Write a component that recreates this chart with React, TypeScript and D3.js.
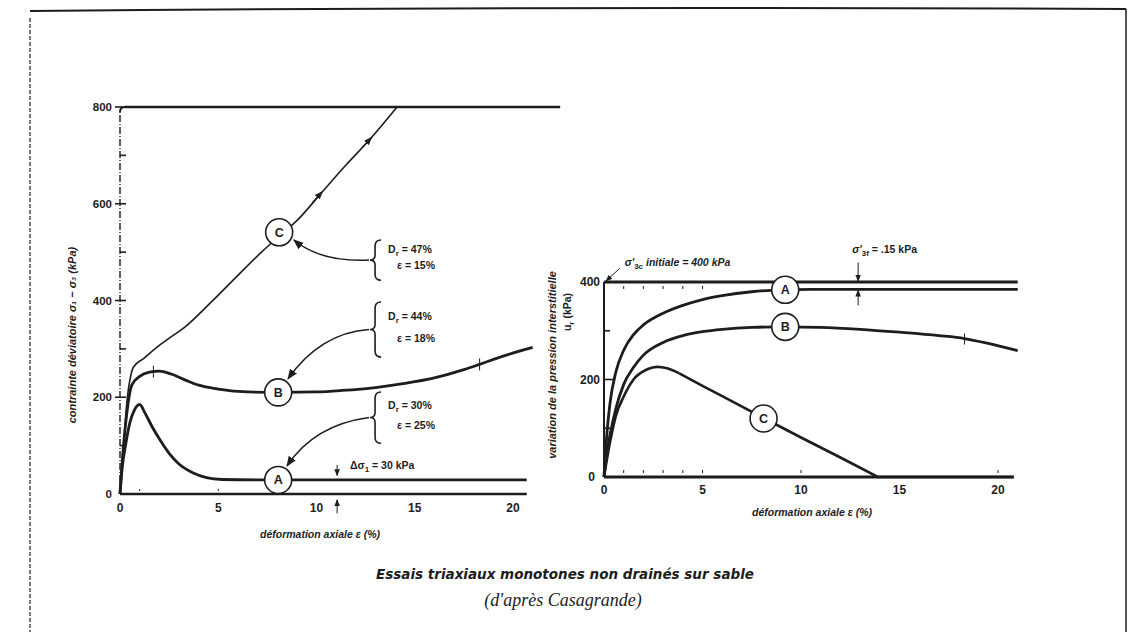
import React, { useEffect, useRef } from "react";
import * as d3 from "d3";

type Pt = [number, number];

// axis ticks
const strainTicks = [0, 5, 10, 15, 20];
const deviatorTicks = [0, 200, 400, 600, 800];
const deviatorMinorTicks = [100, 300, 500, 700];
const poreTicks = [0, 200, 400];
const poreMinorTicks = [100, 300];
const leftBaseDots = [1, 5];
const rightBaseDots = [1, 2, 3, 4, 5, 10, 20];
const rightTopDots = [1, 2, 3, 4, 5];

// left chart: deviator stress (kPa) vs axial strain (%)
const deviatorA: Pt[] = [
  [0, 0], [0.1, 50], [0.3, 105], [0.5, 147], [0.75, 175], [1.0, 185], [1.3, 165],
  [1.65, 138], [2.0, 114], [2.5, 84], [3.0, 62], [3.7, 44], [4.4, 34], [5.2, 30],
  [7, 29], [10, 29], [15, 29], [20.7, 29],
];
const deviatorB: Pt[] = [
  [0, 0], [0.1, 60], [0.3, 150], [0.6, 225], [1.0, 243], [1.5, 252], [2.0, 254],
  [2.6, 248], [3.3, 236], [4, 225], [5, 217], [6.5, 211], [8.2, 210], [10, 211],
  [11.3, 214], [13, 220], [14.4, 228], [16, 240], [17.5, 257], [18.3, 268],
  [19.5, 285], [21, 303],
];
const deviatorC: Pt[] = [
  [0, 0], [0.15, 80], [0.35, 190], [0.55, 245], [0.68, 262], [1.2, 280], [2, 307],
  [2.6, 325], [3.3, 345], [4.6, 395], [6, 452], [7.2, 500], [8.3, 540], [9, 565],
  [10.3, 625], [11.5, 680], [12.8, 737], [14.1, 800],
];
const deviatorLimit: Pt[] = [[0.25, 800], [22.4, 800]];

// right chart: pore pressure variation (kPa) vs axial strain (%)
const poreInitial: Pt[] = [[0, 400], [21, 400]];
const poreA: Pt[] = [
  [0, 0], [0.15, 90], [0.3, 150], [0.6, 215], [1, 260], [1.5, 292], [2, 312],
  [3, 336], [4, 352], [5, 364], [6, 372], [7.5, 380], [9, 384], [10.5, 385], [21, 385],
];
const poreB: Pt[] = [
  [0, 0], [0.15, 50], [0.3, 85], [0.6, 140], [1, 190], [1.5, 225], [2, 250],
  [3, 276], [4, 290], [5, 298], [6, 303], [7.5, 307], [9, 308], [11, 307],
  [13, 303], [15, 297], [17, 290], [18.3, 284], [19.5, 274], [21, 259],
];
const poreC: Pt[] = [
  [0, 0], [0.3, 70], [0.6, 125], [1, 165], [1.5, 200], [2.2, 221], [2.7, 226],
  [3.2, 223], [3.8, 213], [5, 187], [6, 166], [8.2, 119], [10, 81], [12, 40],
  [13.9, 0], [20.8, 0],
];
const poreCBreak = 3.8; // smooth rise before, straight decline after

// circled test labels
const deviatorLabels = [
  { id: "C", e: 8.1, v: 541 },
  { id: "B", e: 8.05, v: 210 },
  { id: "A", e: 8.05, v: 29 },
];
const poreLabels = [
  { id: "A", e: 9.2, v: 384 },
  { id: "B", e: 9.2, v: 308 },
  { id: "C", e: 8.1, v: 120 },
];

// density notes next to braces (stress at brace top/bottom, arrow target and bend)
const braceNotes = [
  { dr: "47%", eps: "15%", top: 525, bottom: 442, target: [8.85, 525], ctrl: [10.2, 479] },
  { dr: "44%", eps: "18%", top: 397, bottom: 283, target: [8.55, 238], ctrl: [10.2, 333] },
  { dr: "30%", eps: "25%", top: 211, bottom: 105, target: [8.5, 58], ctrl: [9.9, 143] },
];

const W = 1131;
const H = 632;
const ink = "#1d1d1d";
const sans = "'Liberation Sans', Arial, sans-serif";

const App: React.FC = () => {
  const ref = useRef<SVGSVGElement | null>(null);

  useEffect(() => {
    const svg = d3.select(ref.current);
    svg.selectAll("*").remove();

    const defs = svg.append("defs");
    defs
      .append("marker")
      .attr("id", "arrow")
      .attr("viewBox", "0 0 10 10")
      .attr("refX", 9)
      .attr("refY", 5)
      .attr("markerWidth", 7)
      .attr("markerHeight", 7)
      .attr("orient", "auto")
      .append("path")
      .attr("d", "M0,1 L10,5 L0,9 Z")
      .attr("fill", ink);

    svg.append("rect").attr("width", W).attr("height", H).attr("fill", "#fff");

    // page frame
    svg.append("path").attr("d", "M30,11 Q560,6 1126,9").attr("fill", "none").attr("stroke", ink).attr("stroke-width", 2);
    svg.append("line").attr("x1", 1126).attr("y1", 9).attr("x2", 1126).attr("y2", H)
      .attr("stroke", ink).attr("stroke-width", 1.5);
    svg.append("line").attr("x1", 30).attr("y1", 18).attr("x2", 30).attr("y2", H)
      .attr("stroke", ink).attr("stroke-width", 1.2).attr("stroke-dasharray", "4,2");

    // ---------- left chart ----------
    const xL = d3.scaleLinear().domain([0, 20]).range([120, 513]);
    const yL = d3.scaleLinear().domain([0, 800]).range([494, 107]);
    const left = svg.append("g");

    left.append("line")
      .attr("x1", xL(0)).attr("x2", xL(0))
      .attr("y1", yL(0)).attr("y2", yL(800) + 5)
      .attr("stroke", ink).attr("stroke-width", 1.4)
      .attr("stroke-dasharray", "7,2,1,2");
    left.append("path")
      .attr("d", `M${xL(0)},${yL(800) + 5} Q${xL(0)},${yL(800)} ${xL(0) + 5},${yL(800)}`)
      .attr("fill", "none").attr("stroke", ink).attr("stroke-width", 2);

    const lineL = d3.line<Pt>().x((d) => xL(d[0])).y((d) => yL(d[1])).curve(d3.curveMonotoneX);

    left.append("path").datum(deviatorLimit)
      .attr("d", d3.line<Pt>().x((d) => xL(d[0])).y((d) => yL(d[1])))
      .attr("fill", "none").attr("stroke", ink).attr("stroke-width", 2.6);

    deviatorTicks.filter((v) => v > 0).forEach((v) => {
      left.append("line").attr("x1", xL(0) - 5).attr("x2", xL(0) + 6)
        .attr("y1", yL(v)).attr("y2", yL(v)).attr("stroke", ink).attr("stroke-width", 1.6);
    });
    deviatorMinorTicks.forEach((v) => {
      left.append("line").attr("x1", xL(0)).attr("x2", xL(0) + 6)
        .attr("y1", yL(v)).attr("y2", yL(v)).attr("stroke", ink).attr("stroke-width", 1.6);
    });
    deviatorTicks.forEach((v) => {
      left.append("text").attr("x", xL(0) - 8).attr("y", yL(v) + 4)
        .attr("text-anchor", "end").attr("font-family", sans).attr("font-weight", "bold")
        .attr("font-size", 11.5).attr("fill", ink).text(v);
    });

    left.append("line").attr("x1", xL(0)).attr("x2", xL(20.7))
      .attr("y1", yL(0)).attr("y2", yL(0)).attr("stroke", ink).attr("stroke-width", 2.6);
    leftBaseDots.forEach((e) => {
      left.append("line").attr("x1", xL(e)).attr("x2", xL(e))
        .attr("y1", yL(0) - 5).attr("y2", yL(0) - 3).attr("stroke", ink).attr("stroke-width", 1);
    });
    strainTicks.forEach((e) => {
      left.append("text").attr("x", xL(e)).attr("y", yL(0) + 18)
        .attr("text-anchor", "middle").attr("font-family", sans).attr("font-weight", "bold")
        .attr("font-size", 12).attr("fill", ink).text(e);
    });

    left.append("path").datum(deviatorC).attr("d", lineL)
      .attr("fill", "none").attr("stroke", ink).attr("stroke-width", 1.6);
    left.append("path").datum(deviatorB).attr("d", lineL)
      .attr("fill", "none").attr("stroke", ink).attr("stroke-width", 2.8);
    left.append("path").datum(deviatorA).attr("d", lineL)
      .attr("fill", "none").attr("stroke", ink).attr("stroke-width", 2.8);

    // small marks along the curves
    [[1.7, 253], [18.3, 268]].forEach(([e, v]) => {
      left.append("line").attr("x1", xL(e)).attr("x2", xL(e))
        .attr("y1", yL(v) - 6).attr("y2", yL(v) + 6).attr("stroke", ink).attr("stroke-width", 1);
    });
    [[10.3, 625], [12.8, 737]].forEach(([e, v]) => {
      left.append("line")
        .attr("x1", xL(e - 0.5)).attr("y1", yL(v - 22))
        .attr("x2", xL(e)).attr("y2", yL(v))
        .attr("stroke", ink).attr("stroke-width", 1.2).attr("marker-end", "url(#arrow)");
    });

    deviatorLabels.forEach((l) => {
      left.append("circle").attr("cx", xL(l.e)).attr("cy", yL(l.v)).attr("r", 13.5)
        .attr("fill", "#fff").attr("stroke", ink).attr("stroke-width", 1.6);
      left.append("text").attr("x", xL(l.e)).attr("y", yL(l.v) + 4.5)
        .attr("text-anchor", "middle").attr("font-family", sans).attr("font-weight", "bold")
        .attr("font-size", 12.5).attr("fill", ink).text(l.id);
    });

    // braces with density notes
    const braceX = xL(12.98);
    braceNotes.forEach((n) => {
      const y0 = yL(n.top);
      const y1 = yL(n.bottom);
      const ym = (y0 + y1) / 2;
      left.append("path")
        .attr("d", `M${braceX + 6},${y0} Q${braceX},${y0} ${braceX},${y0 + 6} L${braceX},${ym - 5} Q${braceX},${ym} ${braceX - 5},${ym} Q${braceX},${ym} ${braceX},${ym + 5} L${braceX},${y1 - 6} Q${braceX},${y1} ${braceX + 6},${y1}`)
        .attr("fill", "none").attr("stroke", ink).attr("stroke-width", 1.6);
      const t1 = left.append("text").attr("x", braceX + 13).attr("y", y0 + (y1 - y0) * 0.33)
        .attr("font-family", sans).attr("font-weight", "bold").attr("font-size", 10.5).attr("fill", ink);
      t1.append("tspan").text("D");
      t1.append("tspan").attr("font-size", 8).attr("dy", 3).text("r");
      t1.append("tspan").attr("dy", -3).text(` = ${n.dr}`);
      left.append("text").attr("x", braceX + 22).attr("y", y0 + (y1 - y0) * 0.72)
        .attr("font-family", sans).attr("font-weight", "bold").attr("font-size", 10.5)
        .attr("fill", ink).text(`\u03b5 = ${n.eps}`);
      left.append("path")
        .attr("d", `M${braceX - 6},${ym} Q${xL(n.ctrl[0])},${yL(n.ctrl[1])} ${xL(n.target[0])},${yL(n.target[1])}`)
        .attr("fill", "none").attr("stroke", ink).attr("stroke-width", 1.5).attr("marker-end", "url(#arrow)");
    });

    // Δσ note
    const dT = left.append("text").attr("x", xL(11.7)).attr("y", yL(52))
      .attr("font-family", sans).attr("font-weight", "bold").attr("font-size", 10.5).attr("fill", ink);
    dT.append("tspan").text("\u0394\u03c3");
    dT.append("tspan").attr("font-size", 8).attr("dy", 3).text("1");
    dT.append("tspan").attr("dy", -3).text(" = 30 kPa");
    left.append("line").attr("x1", xL(11.05)).attr("x2", xL(11.05))
      .attr("y1", yL(60)).attr("y2", yL(38)).attr("stroke", ink).attr("stroke-width", 1)
      .attr("marker-end", "url(#arrow)");
    left.append("line").attr("x1", xL(11.05)).attr("x2", xL(11.05))
      .attr("y1", yL(-40)).attr("y2", yL(-12)).attr("stroke", ink).attr("stroke-width", 1)
      .attr("marker-end", "url(#arrow)");

    left.append("text").attr("x", 320).attr("y", 538).attr("text-anchor", "middle")
      .attr("font-family", sans).attr("font-weight", "bold").attr("font-style", "italic")
      .attr("font-size", 10.5).attr("fill", ink).text("d\u00e9formation axiale  \u03b5 (%)");
    left.append("text").attr("transform", "translate(76,335) rotate(-90)").attr("text-anchor", "middle")
      .attr("font-family", sans).attr("font-weight", "bold").attr("font-style", "italic")
      .attr("font-size", 11).attr("fill", ink)
      .text("contrainte d\u00e9viatoire  \u03c3\u2081 \u2212 \u03c3\u2083  (kPa)");

    // ---------- right chart ----------
    const xR = d3.scaleLinear().domain([0, 20]).range([604, 998]);
    const yR = d3.scaleLinear().domain([0, 400]).range([477, 282]);
    const right = svg.append("g");
    const lineR = d3.line<Pt>().x((d) => xR(d[0])).y((d) => yR(d[1])).curve(d3.curveMonotoneX);
    const lineRStraight = d3.line<Pt>().x((d) => xR(d[0])).y((d) => yR(d[1]));

    right.append("line").attr("x1", xR(0)).attr("x2", xR(0))
      .attr("y1", yR(0)).attr("y2", yR(400)).attr("stroke", ink).attr("stroke-width", 2);
    right.append("path").datum(poreInitial).attr("d", lineR)
      .attr("fill", "none").attr("stroke", ink).attr("stroke-width", 2.8);
    right.append("line").attr("x1", xR(0)).attr("x2", xR(20.8))
      .attr("y1", yR(0)).attr("y2", yR(0)).attr("stroke", ink).attr("stroke-width", 2.8);

    poreTicks.filter((v) => v > 0 && v < 400).concat(poreMinorTicks).forEach((v) => {
      right.append("line").attr("x1", xR(0)).attr("x2", xR(0) + (v === 200 ? 11 : 6))
        .attr("y1", yR(v)).attr("y2", yR(v)).attr("stroke", ink).attr("stroke-width", 1.6);
    });
    poreTicks.forEach((v) => {
      right.append("text").attr("x", xR(0) - (v === 0 ? 9 : 4)).attr("y", yR(v) + 4)
        .attr("text-anchor", "end").attr("font-family", sans).attr("font-weight", "bold")
        .attr("font-size", 12).attr("fill", ink).text(v);
    });
    rightBaseDots.forEach((e) => {
      right.append("line").attr("x1", xR(e)).attr("x2", xR(e))
        .attr("y1", yR(0) - 7).attr("y2", yR(0) - 4).attr("stroke", ink).attr("stroke-width", 1);
    });
    rightTopDots.forEach((e) => {
      right.append("line").attr("x1", xR(e)).attr("x2", xR(e))
        .attr("y1", yR(400) + 4).attr("y2", yR(400) + 7).attr("stroke", ink).attr("stroke-width", 1);
    });
    strainTicks.forEach((e) => {
      right.append("text").attr("x", xR(e)).attr("y", yR(0) + 17)
        .attr("text-anchor", "middle").attr("font-family", sans).attr("font-weight", "bold")
        .attr("font-size", 12).attr("fill", ink).text(e);
    });

    right.append("path").datum(poreA).attr("d", lineR)
      .attr("fill", "none").attr("stroke", ink).attr("stroke-width", 2.8);
    right.append("path").datum(poreB).attr("d", lineR)
      .attr("fill", "none").attr("stroke", ink).attr("stroke-width", 2.8);
    right.append("path").datum(poreC.filter((d) => d[0] <= poreCBreak)).attr("d", lineR)
      .attr("fill", "none").attr("stroke", ink).attr("stroke-width", 2.6);
    right.append("path").datum(poreC.filter((d) => d[0] >= poreCBreak)).attr("d", lineRStraight)
      .attr("fill", "none").attr("stroke", ink).attr("stroke-width", 2.6);
    right.append("line").attr("x1", xR(18.3)).attr("x2", xR(18.3))
      .attr("y1", yR(284) - 5).attr("y2", yR(284) + 6).attr("stroke", ink).attr("stroke-width", 1);

    poreLabels.forEach((l) => {
      right.append("circle").attr("cx", xR(l.e)).attr("cy", yR(l.v)).attr("r", 13.5)
        .attr("fill", "#fff").attr("stroke", ink).attr("stroke-width", 1.6);
      right.append("text").attr("x", xR(l.e)).attr("y", yR(l.v) + 4.5)
        .attr("text-anchor", "middle").attr("font-family", sans).attr("font-weight", "bold")
        .attr("font-size", 12.5).attr("fill", ink).text(l.id);
    });

    // initial / final effective stress notes
    const sInit = right.append("text").attr("x", xR(1.05)).attr("y", yR(432))
      .attr("font-family", sans).attr("font-weight", "bold").attr("font-size", 10.5).attr("fill", ink);
    sInit.append("tspan").attr("font-style", "italic").text("\u03c3'");
    sInit.append("tspan").attr("font-size", 8).attr("dy", 3).text("3c");
    sInit.append("tspan").attr("dy", -3).attr("font-style", "italic").text("  initiale = 400 kPa");
    right.append("line").attr("x1", xR(0.8)).attr("y1", yR(428))
      .attr("x2", xR(0.1)).attr("y2", yR(402)).attr("stroke", ink).attr("stroke-width", 1)
      .attr("marker-end", "url(#arrow)");

    const sFin = right.append("text").attr("x", xR(12.6)).attr("y", yR(460))
      .attr("font-family", sans).attr("font-weight", "bold").attr("font-size", 10.5).attr("fill", ink);
    sFin.append("tspan").attr("font-style", "italic").text("\u03c3'");
    sFin.append("tspan").attr("font-size", 8).attr("dy", 3).text("3f");
    sFin.append("tspan").attr("dy", -3).text(" = .15 kPa");
    right.append("line").attr("x1", xR(12.9)).attr("x2", xR(12.9))
      .attr("y1", yR(440)).attr("y2", yR(402)).attr("stroke", ink).attr("stroke-width", 1)
      .attr("marker-end", "url(#arrow)");
    right.append("line").attr("x1", xR(12.9)).attr("x2", xR(12.9))
      .attr("y1", yR(352)).attr("y2", yR(383)).attr("stroke", ink).attr("stroke-width", 1)
      .attr("marker-end", "url(#arrow)");

    right.append("text").attr("x", 812).attr("y", 516).attr("text-anchor", "middle")
      .attr("font-family", sans).attr("font-weight", "bold").attr("font-style", "italic")
      .attr("font-size", 10.5).attr("fill", ink).text("d\u00e9formation axiale  \u03b5 (%)");
    right.append("text").attr("transform", "translate(556,365) rotate(-90)").attr("text-anchor", "middle")
      .attr("font-family", sans).attr("font-weight", "bold").attr("font-style", "italic")
      .attr("font-size", 11).attr("fill", ink)
      .text("variation de la pression interstitielle");
    const uT = right.append("text").attr("transform", "translate(571,312) rotate(-90)").attr("text-anchor", "middle")
      .attr("font-family", sans).attr("font-weight", "bold")
      .attr("font-size", 10.5).attr("fill", ink);
    uT.append("tspan").text("u");
    uT.append("tspan").attr("font-size", 8).attr("dy", 3).text("r");
    uT.append("tspan").attr("dy", -3).text(" (kPa)");

    // caption
    svg.append("text").attr("x", 565).attr("y", 579).attr("text-anchor", "middle")
      .attr("font-family", "'DejaVu Sans', sans-serif").attr("font-weight", "bold").attr("font-style", "italic")
      .attr("font-size", 13.5).attr("fill", ink)
      .text("Essais triaxiaux monotones non drain\u00e9s sur sable");
    svg.append("text").attr("x", 563).attr("y", 606).attr("text-anchor", "middle")
      .attr("font-family", "'Liberation Serif', serif").attr("font-style", "italic")
      .attr("font-size", 18).attr("fill", ink)
      .text("(d'apr\u00e8s Casagrande)");
  }, []);

  return (
    <div style={{ position: "absolute", left: 0, top: 0 }}>
      <svg ref={ref} width={W} height={H} style={{ display: "block" }} />
    </div>
  );
};

export default App;
